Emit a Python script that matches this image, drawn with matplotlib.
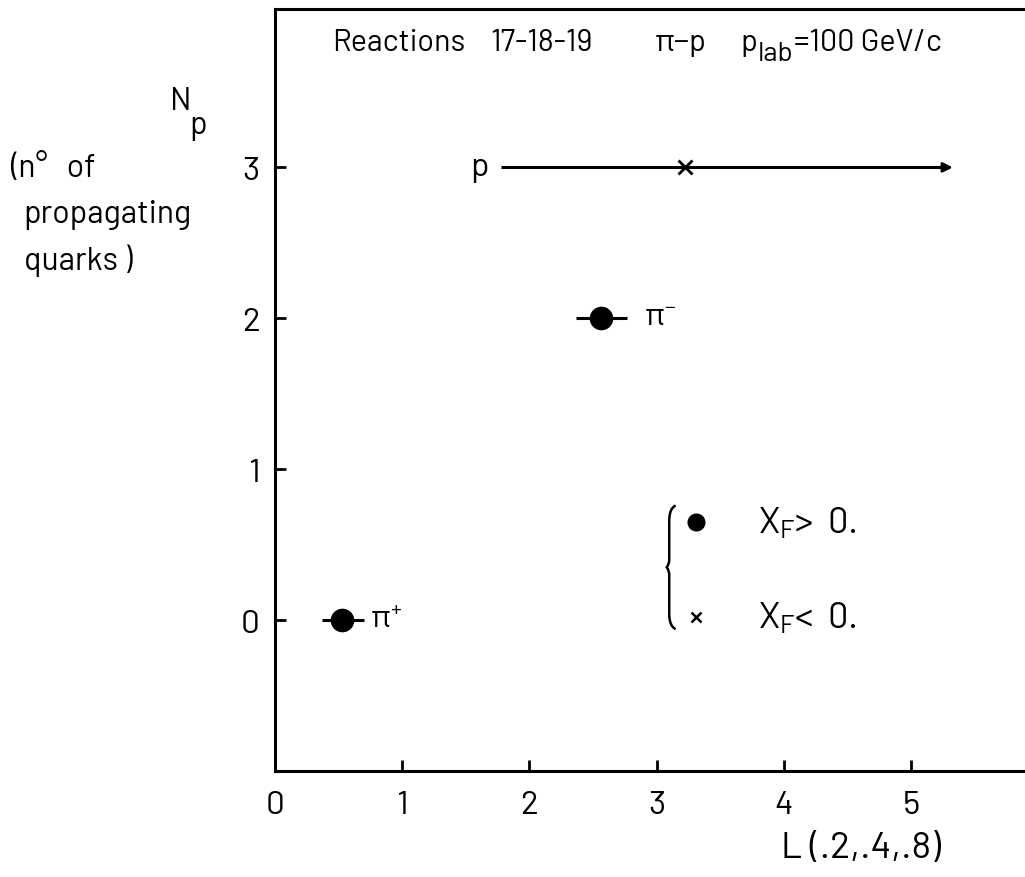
import matplotlib
matplotlib.use("Agg")
import matplotlib.pyplot as plt
from matplotlib.path import Path
from matplotlib.patches import PathPatch

FONT = ['Barlow', 'DejaVu Sans']
plt.rcParams['font.family'] = FONT
plt.rcParams['mathtext.fontset'] = 'custom'
plt.rcParams['mathtext.rm'] = 'Barlow'
plt.rcParams['mathtext.it'] = 'Barlow'
plt.rcParams['mathtext.default'] = 'regular'

# particles: name, L value, error bar ends, N_p, marker
names = ["π⁺", "π⁻", "p"]
L_val = [0.53, 2.56, 3.22]
L_lo = [0.37, 2.37, 1.78]
L_hi = [0.70, 2.77, 5.30]
N_p = [0, 2, 3]
markers = ["o", "o", "x"]

x_ticks = [0, 1, 2, 3, 4, 5]
y_ticks = [0, 1, 2, 3]

fig = plt.figure(figsize=(10.25, 8.78), dpi=100)
ax = fig.add_axes([0.268, 0.1207, 0.745, 0.868])
ax.set_xlim(0, 6)
ax.set_ylim(-1.0, 4.05)

for name, x, lo, hi, y, m in zip(names, L_val, L_lo, L_hi, N_p, markers):
    ax.errorbar([x], [y], xerr=[[x - lo], [hi - x]], fmt=m, color="black",
                ms=15 if m == "o" else 10, mew=2, elinewidth=2.2, capsize=0)

# p: range runs off to the right
ax.annotate("", xy=(L_hi[2] + 0.05, N_p[2]), xytext=(L_hi[2] - 0.15, N_p[2]),
            arrowprops=dict(arrowstyle="-|>", color="black", lw=2,
                            mutation_scale=14))

ax.text(L_lo[2] - 0.1, N_p[2], "p", fontsize=24, ha="right", va="center")
ax.text(L_hi[1] + 0.13, N_p[1] + 0.01, "π$^{-}$", fontsize=22,
        ha="left", va="center")
ax.text(L_hi[0] + 0.05, N_p[0] + 0.01, "π$^{+}$", fontsize=22,
        ha="left", va="center")

# heading, with a large low subscript on p_lab
hy = 3.74
ax.text(0.45, hy, "Reactions", fontsize=22, ha="left", va="bottom")
ax.text(1.69, hy, "17-18-19", fontsize=22, ha="left", va="bottom")
ax.text(2.99, hy, "π−p", fontsize=22, ha="left", va="bottom")
t1 = ax.text(3.66, hy, "p", fontsize=22, ha="left", va="bottom")
t2 = ax.annotate("lab", xy=(1, 0), xycoords=t1, xytext=(0, 2),
                 textcoords="offset points", fontsize=20, ha="left",
                 va="center")
ax.annotate("=100 GeV/c", xy=(1, 0), xycoords=(t2, t1), xytext=(0.5, 0),
            textcoords="offset points", fontsize=22, ha="left", va="bottom")

# key
ax.plot([3.31], [0.65], "o", color="black", ms=12)
ax.plot([3.31], [0.02], "x", color="black", ms=7, mew=1.8)
ax.text(3.8, 0.65, "$X_F$>  0.", fontsize=26, ha="left", va="center")
ax.text(3.8, 0.02, "$X_F$<  0.", fontsize=26, ha="left", va="center")
bx, top, bot, w = 3.10, 0.76, -0.06, 0.05
mid = (top + bot) / 2
verts = [(bx + w, top), (bx, top - 0.02), (bx, top - 0.1),
         (bx, mid + 0.05), (bx, mid + 0.02), (bx - 0.02, mid),
         (bx, mid - 0.02), (bx, mid - 0.05), (bx, bot + 0.1),
         (bx, bot + 0.02), (bx + w, bot)]
codes = [Path.MOVETO, Path.CURVE3, Path.CURVE3, Path.LINETO,
         Path.CURVE3, Path.CURVE3, Path.CURVE3, Path.CURVE3, Path.LINETO,
         Path.CURVE3, Path.CURVE3]
ax.add_patch(PathPatch(Path(verts, codes), fill=False, lw=1.8, color="black"))

ax.set_xticks(x_ticks)
ax.set_yticks(y_ticks)
ax.tick_params(direction="in", length=8, width=2, labelsize=24, pad=14)
ax.tick_params(axis="y", pad=11)
for s in ["left", "bottom", "top"]:
    ax.spines[s].set_linewidth(2.2)
ax.spines["right"].set_visible(False)

fig.text(0.762, 0.034, "L (.2,.4,.8)", fontsize=27, ha="left", va="center")
fig.text(0.166, 0.884, "N", fontsize=23, ha="left", va="center")
fig.text(0.185, 0.857, "p", fontsize=23, ha="left", va="center")
fig.text(0.01, 0.808, "(n°   of", fontsize=23, ha="left", va="center")
fig.text(0.023, 0.755, "propagating", fontsize=23, ha="left", va="center")
fig.text(0.023, 0.703, "quarks )", fontsize=23, ha="left", va="center")

fig.savefig("out.png", dpi=100)
